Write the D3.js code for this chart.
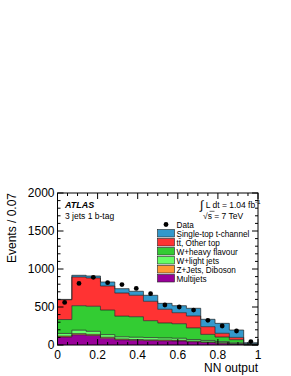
<!DOCTYPE html>
<html><head><meta charset="utf-8">
<script src="https://cdn.jsdelivr.net/npm/d3@7"></script>
<style>body{margin:0;background:#fff}svg{display:block}text{font-family:"Liberation Sans",Arial,sans-serif}</style>
</head><body><svg id="c" width="291" height="376"></svg>
<script>
const binEdges = [0, 0.0714, 0.1429, 0.2143, 0.2857, 0.3571, 0.4286, 0.5, 0.5714, 0.6429, 0.7143, 0.7857, 0.8571, 0.9286, 1];
const multijets   = [105, 135, 125, 90, 68, 62, 58, 55, 52, 42, 33, 24, 12, 2];
const zjetsDiboson= [12, 15, 15, 12, 10, 10, 10, 10, 9, 8, 7, 5, 4, 1];
const wLight      = [35, 45, 40, 35, 30, 30, 30, 28, 28, 22, 20, 16, 12, 2];
const wHeavy      = [183, 322, 330, 323, 272, 270, 222, 197, 191, 153, 80, 60, 42, 7];
const ttbar       = [260, 378, 372, 316, 304, 282, 255, 180, 145, 157, 101, 49, 30, 3];
const singleTop   = [5, 22, 26, 53, 57, 53, 79, 78, 92, 101, 97, 131, 97, 15];
const dataValues  = [560, 810, 890, 820, 795, 745, 675, 526, 500, 460, 325, 250, 184, 45];
const yTicks = [0, 500, 1000, 1500, 2000];
const xTicks = [0, 0.2, 0.4, 0.6, 0.8, 1];
const xTickLabels = ["0", "0.2", "0.4", "0.6", "0.8", "1"];
const seriesNames = ["Multijets", "Z+Jets, Diboson", "W+light jets", "W+heavy flavour", "tt\u0304, Other top", "Single-top t-channel"];
const seriesColors = ["#990099", "#ff9933", "#66ff66", "#33cc33", "#ff3333", "#3399cc"];
const seriesData = [multijets, zjetsDiboson, wLight, wHeavy, ttbar, singleTop];

const svg = d3.select("#c");
const L = 57.5, R = 258, T = 193, B = 345;
const x = d3.scaleLinear().domain([0, 1]).range([L, R]);
const y = d3.scaleLinear().domain([0, 2000]).range([B, T]);

const nb = binEdges.length - 1;
const rows = d3.range(nb).map(i => {
  const o = {i};
  seriesNames.forEach((n, k) => o[n] = seriesData[k][i]);
  return o;
});
const stack = d3.stack().keys(seriesNames)(rows);

function stepPts(layer, which) {
  const pts = [];
  layer.forEach((d, i) => {
    pts.push([x(binEdges[i]), y(d[which])]);
    pts.push([x(binEdges[i + 1]), y(d[which])]);
  });
  return pts;
}
const g = svg.append("g");
stack.forEach((layer, k) => {
  const top = stepPts(layer, 1);
  const bot = stepPts(layer, 0).reverse();
  g.append("path").attr("d", "M" + top.concat(bot).map(p => p.join(",")).join("L") + "Z")
    .attr("fill", seriesColors[k]).attr("stroke", "none");
});
stack.forEach((layer, k) => {
  const top = stepPts(layer, 1);
  g.append("path").attr("d", "M" + top.map(p => p.join(",")).join("L"))
    .attr("fill", "none").attr("stroke", "#222").attr("stroke-width", 0.7);
});

// data points
svg.append("g").selectAll("circle").data(dataValues).join("circle")
  .attr("cx", (d, i) => x((binEdges[i] + binEdges[i + 1]) / 2))
  .attr("cy", d => y(d)).attr("r", 2.4).attr("fill", "#000");

// frame
svg.append("rect").attr("x", L).attr("y", T).attr("width", R - L).attr("height", B - T)
  .attr("fill", "none").attr("stroke", "#000").attr("stroke-width", 1);

// ticks
const ax = svg.append("g").attr("stroke", "#000").attr("stroke-width", 1);
d3.range(0, 1.0001, 0.05).forEach(v => {
  const major = Math.abs(v * 5 - Math.round(v * 5)) < 1e-6;
  const len = major ? 6 : 3;
  ax.append("line").attr("x1", x(v)).attr("x2", x(v)).attr("y1", B).attr("y2", B - len);
  ax.append("line").attr("x1", x(v)).attr("x2", x(v)).attr("y1", T).attr("y2", T + len);
});
d3.range(0, 2001, 100).forEach(v => {
  const major = v % 500 === 0;
  const len = major ? 6 : 3;
  ax.append("line").attr("x1", L).attr("x2", L + len).attr("y1", y(v)).attr("y2", y(v));
  ax.append("line").attr("x1", R).attr("x2", R - len).attr("y1", y(v)).attr("y2", y(v));
});

// tick labels
svg.append("g").selectAll("text").data(yTicks).join("text")
  .attr("x", L - 3).attr("y", d => y(d) + 4.3).attr("text-anchor", "end")
  .attr("font-size", 12).text(d => d);
svg.append("g").selectAll("text").data(xTicks).join("text")
  .attr("x", d => x(d)).attr("y", 358.5).attr("text-anchor", "middle")
  .attr("font-size", 12).text((d, i) => xTickLabels[i]);

svg.append("text").attr("transform", `translate(16,${T}) rotate(-90)`)
  .attr("text-anchor", "end").attr("font-size", 12).text("Events / 0.07");
svg.append("text").attr("x", R).attr("y", 371.5).attr("text-anchor", "end")
  .attr("font-size", 12).text("NN output");

svg.append("text").attr("x", 65).attr("y", 207.5).attr("font-size", 9)
  .attr("font-weight", "bold").attr("font-style", "italic").text("ATLAS");
svg.append("text").attr("x", 65).attr("y", 219).attr("font-size", 8.5).text("3 jets 1 b-tag");

// lumi
const lt = svg.append("text").attr("x", 200).attr("y", 207.5).attr("font-size", 8.5);
lt.append("tspan").attr("font-size", 12).attr("dy", 1).text("\u222B");
lt.append("tspan").attr("dy", -1).text(" L dt = 1.04 fb");
lt.append("tspan").attr("font-size", 6).attr("dy", -3.5).text("-1");
svg.append("text").attr("x", 203).attr("y", 219).attr("font-size", 8.5).text("\u221As = 7 TeV");
svg.append("line").attr("x1", 209.5).attr("x2", 214.5).attr("y1", 211.3).attr("y2", 211.3)
  .attr("stroke", "#000").attr("stroke-width", 0.6);

// legend
const lx = 157.5, ly0 = 227.5, dy = 9;
const lg = svg.append("g");
lg.append("circle").attr("cx", lx + 8.5).attr("cy", ly0 - 3).attr("r", 2.4).attr("fill", "#000");
lg.append("text").attr("x", lx + 19).attr("y", ly0).attr("font-size", 8.2).text("Data");
const order = [5, 4, 3, 2, 1, 0];
order.forEach((k, j) => {
  const yy = ly0 + dy * (j + 1);
  lg.append("rect").attr("x", lx).attr("y", yy - 7).attr("width", 17).attr("height", 7.5)
    .attr("fill", seriesColors[k]).attr("stroke", "#222").attr("stroke-width", 0.6);
  lg.append("text").attr("x", lx + 19).attr("y", yy).attr("font-size", 8.2).text(seriesNames[k]);
});
</script></body></html>
